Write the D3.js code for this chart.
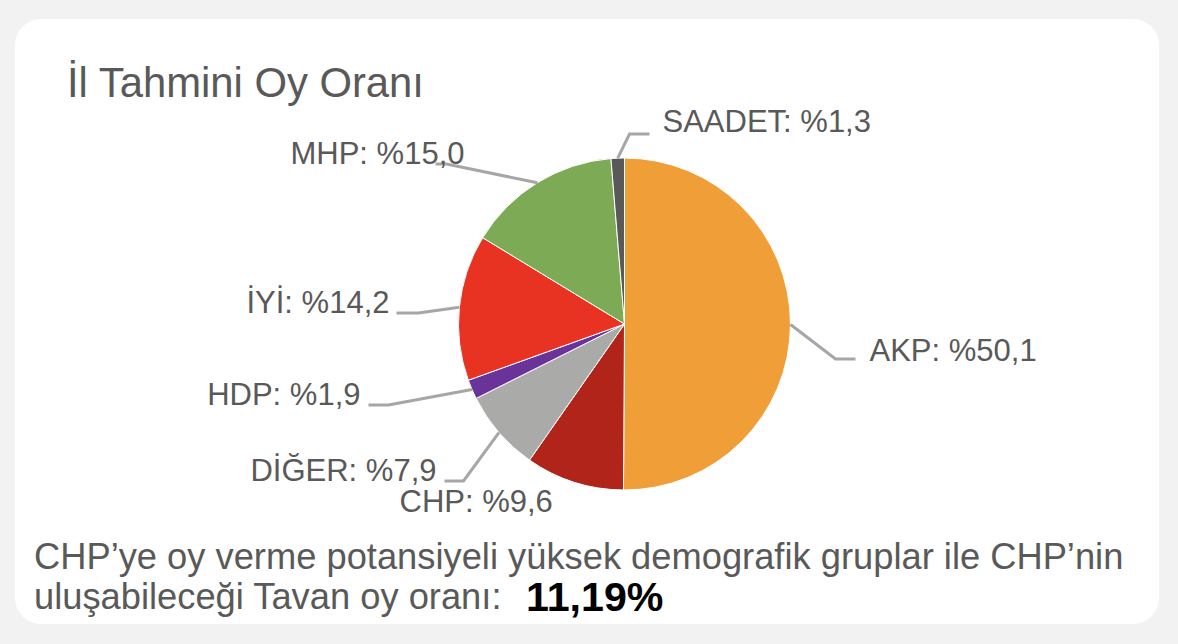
<!DOCTYPE html>
<html>
<head>
<meta charset="utf-8">
<script src="https://cdn.jsdelivr.net/npm/d3@7"></script>
<style>
  html, body { margin: 0; padding: 0; background: #f2f2f2; }
  svg { display: block; }
  text { font-family: "Liberation Sans", Arial, sans-serif; }
</style>
</head>
<body>
<svg id="chart" width="1178" height="644"></svg>
<script>
// party names, vote shares (%) and slice colours, in clockwise order from 12 o'clock
var parties = ["AKP", "CHP", "DİĞER", "HDP", "İYİ", "MHP", "SAADET"];
var shares  = [50.1, 9.6, 7.9, 1.9, 14.2, 15.0, 1.3];
var colors  = ["#f09e38", "#b0241a", "#aaaaa9", "#6a339a", "#e83323", "#7daa55", "#595959"];

var title = "İl Tahmini Oy Oranı";
var note1 = "CHP’ye oy verme potansiyeli yüksek demografik gruplar ile CHP’nin";
var note2 = "uluşabileceği Tavan oy oranı:";
var ceiling = "11,19%";

// layout only: label/leader placement relative to the pie centre
var labelLayout = {
  "AKP":    {tx: 245, ty: 37,   anchor: "start", elbow: [211, 35],   end: [231, 35]},
  "CHP":    {tx: -225, ty: 188, anchor: "start", elbow: null,        end: null},
  "DİĞER":  {tx: -188, ty: 157, anchor: "end",   elbow: [-161, 157], end: [-180, 157]},
  "HDP":    {tx: -264, ty: 81,  anchor: "end",   elbow: [-236, 81],  end: [-256, 81]},
  "İYİ":    {tx: -235, ty: -11, anchor: "end",   elbow: [-206, -11], end: [-228, -11]},
  "MHP":    {tx: -160, ty: -160, anchor: "end",  elbow: [-178, -160], end: [-189, -160]},
  "SAADET": {tx: 38, ty: -192,  anchor: "start", elbow: [5, -190],   end: [25, -190]}
};

var svg = d3.select("#chart");
var cx = 624.5, cy = 324, r = 166;

// card
svg.append("rect")
  .attr("x", 15).attr("y", 19)
  .attr("width", 1144).attr("height", 605)
  .attr("rx", 26).attr("ry", 26)
  .attr("fill", "#ffffff");

svg.append("text")
  .attr("x", 67).attr("y", 97)
  .attr("font-size", 41.8)
  .attr("fill", "#595959")
  .text(title);

var data = parties.map(function(p, i) { return {name: p, value: shares[i], color: colors[i]}; });

var pie = d3.pie().sort(null).value(function(d) { return d.value; });
var arc = d3.arc().innerRadius(0).outerRadius(r);
var arcs = pie(data);

var g = svg.append("g").attr("transform", "translate(" + cx + "," + cy + ")");

g.selectAll("path.slice")
  .data(arcs)
  .enter().append("path")
  .attr("class", "slice")
  .attr("d", arc)
  .attr("fill", function(d) { return d.data.color; })
  .attr("stroke", "#ffffff")
  .attr("stroke-width", 1);

var fmt = d3.formatLocale({decimal: ",", thousands: ".", grouping: [3], currency: ["", ""]}).format(".1f");

// leader lines: from the slice's outer mid point to the elbow then a short horizontal
var line = d3.line();
arcs.forEach(function(d) {
  var L = labelLayout[d.data.name];
  var mid = (d.startAngle + d.endAngle) / 2;
  var p0 = [r * Math.sin(mid), -r * Math.cos(mid)];
  if (L.elbow) {
    g.append("path")
      .attr("d", line([p0, L.elbow, L.end]))
      .attr("fill", "none")
      .attr("stroke", "#a6a6a6")
      .attr("stroke-width", 3);
  }
  g.append("text")
    .attr("x", L.tx).attr("y", L.ty)
    .attr("text-anchor", L.anchor)
    .attr("font-size", 31)
    .attr("fill", "#595959")
    .text(d.data.name + ": %" + fmt(d.data.value));
});

// footnote
svg.append("text")
  .attr("x", 34).attr("y", 569)
  .attr("font-size", 36.3)
  .attr("fill", "#595959")
  .text(note1);

var n2 = svg.append("text")
  .attr("x", 34).attr("y", 609)
  .attr("font-size", 36.3)
  .attr("fill", "#595959");
n2.append("tspan").text(note2);
n2.append("tspan")
  .attr("x", 526)
  .attr("y", 611)
  .attr("font-size", 41.2)
  .attr("font-weight", "bold")
  .attr("fill", "#000000")
  .text(ceiling);
</script>
</body>
</html>
